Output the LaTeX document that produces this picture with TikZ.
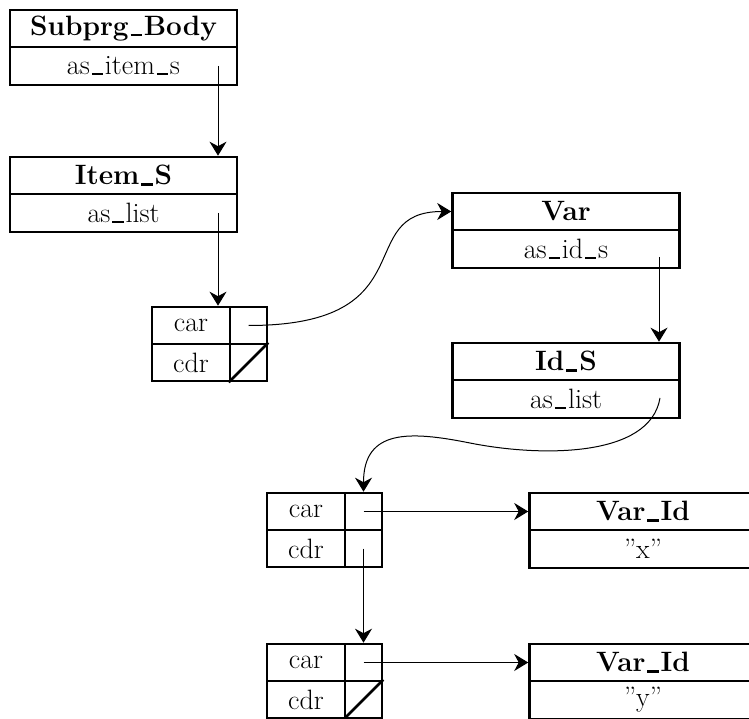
\documentclass[tikz,border=0pt]{standalone}
\usetikzlibrary{arrows.meta}
\newcommand{\us}{\kern0.07em\rule[-0.03em]{0.4em}{0.08em}\kern0.07em}
\begin{document}
\begin{tikzpicture}[x=1pt,y=-1pt,
		box/.style={draw,line width=2.6pt,inner sep=0pt,minimum width=227pt,minimum height=37pt,font=\fontsize{28}{32}\selectfont},
		head/.style={box,font=\fontsize{28}{32}\selectfont\bfseries},
		field/.style={box,minimum height=38pt},
		cell/.style={box,minimum width=78pt},
		pcell/.style={box,minimum width=37pt},
		ptr/.style={line width=1pt,-{Stealth[length=14pt,width=17pt,inset=4.5pt]}}]
			\clip (0,0) rectangle (749,719);
			% records
			\node[head] (sb) at (123.5,28.5) {Subprg\us Body};
			\node[field] (sbf) at (123.5,66) {as\us item\us s};
			\node[head] (items) at (123.5,175.5) {Item\us S};
			\node[field] (itemsf) at (123.5,213) {as\us list};
			\node[head] (var) at (566,211.5) {Var};
			\node[field] (varf) at (566,249) {as\us id\us s};
			\node[head] (ids) at (566,361.5) {Id\us S};
			\node[field] (idsf) at (566,399) {as\us list};
			\node[head] (vid1) at (643,511.5) {Var\us Id};
			\node[field] (vid1f) at (643,549) {''x''};
			\node[head] (vid2) at (643,662.5) {Var\us Id};
			\node[field] (vid2f) at (643,700) {''y''};
			% cons cells
			\node[cell] (c1car) at (191,325.5) {car};
			\node[pcell] (c1carp) at (248.5,325.5) {};
			\node[cell] (c1cdr) at (191,362.5) {cdr};
			\node[pcell] (c1cdrp) at (248.5,362.5) {};
			\node[cell] (c2car) at (306,511.5) {car};
			\node[pcell] (c2carp) at (363.5,511.5) {};
			\node[cell] (c2cdr) at (306,548.5) {cdr};
			\node[pcell] (c2cdrp) at (363.5,548.5) {};
			\node[cell] (c3car) at (306,662.5) {car};
			\node[pcell] (c3carp) at (363.5,662.5) {};
			\node[cell] (c3cdr) at (306,699.5) {cdr};
			\node[pcell] (c3cdrp) at (363.5,699.5) {};
			\draw[line width=2.6pt] (c1cdrp.south west)--(c1cdrp.north east);
			\draw[line width=2.6pt] (c3cdrp.south west)--(c3cdrp.north east);
			% pointers
			\coordinate (sbp) at (218,66);
			\coordinate (itp) at (218,213);
			\coordinate (varp) at (659,257);
			\coordinate (idsp) at (660,398);
			\coordinate (bend) at (470,443);
			\draw[ptr] (sbp)--(sbp |- items.north);
			\draw[ptr] (itp)--(itp |- c1car.north);
			\draw[ptr] (c1carp.center) .. controls +(180,0) and +(-100,0) .. (var.west);
			\draw[ptr] (varp)--(varp |- ids.north);
			\draw[ptr] (idsp) .. controls +(-10,60) and +(70,14) .. (bend) .. controls +(-60,-12) and +(0,-63) .. (c2carp.north);
			\draw[ptr] (c2carp.center)--(vid1.west);
			\draw[ptr] (c2cdrp.center)--(c3carp.north);
			\draw[ptr] (c3carp.center)--(vid2.west);
		\end{tikzpicture}
\end{document}
